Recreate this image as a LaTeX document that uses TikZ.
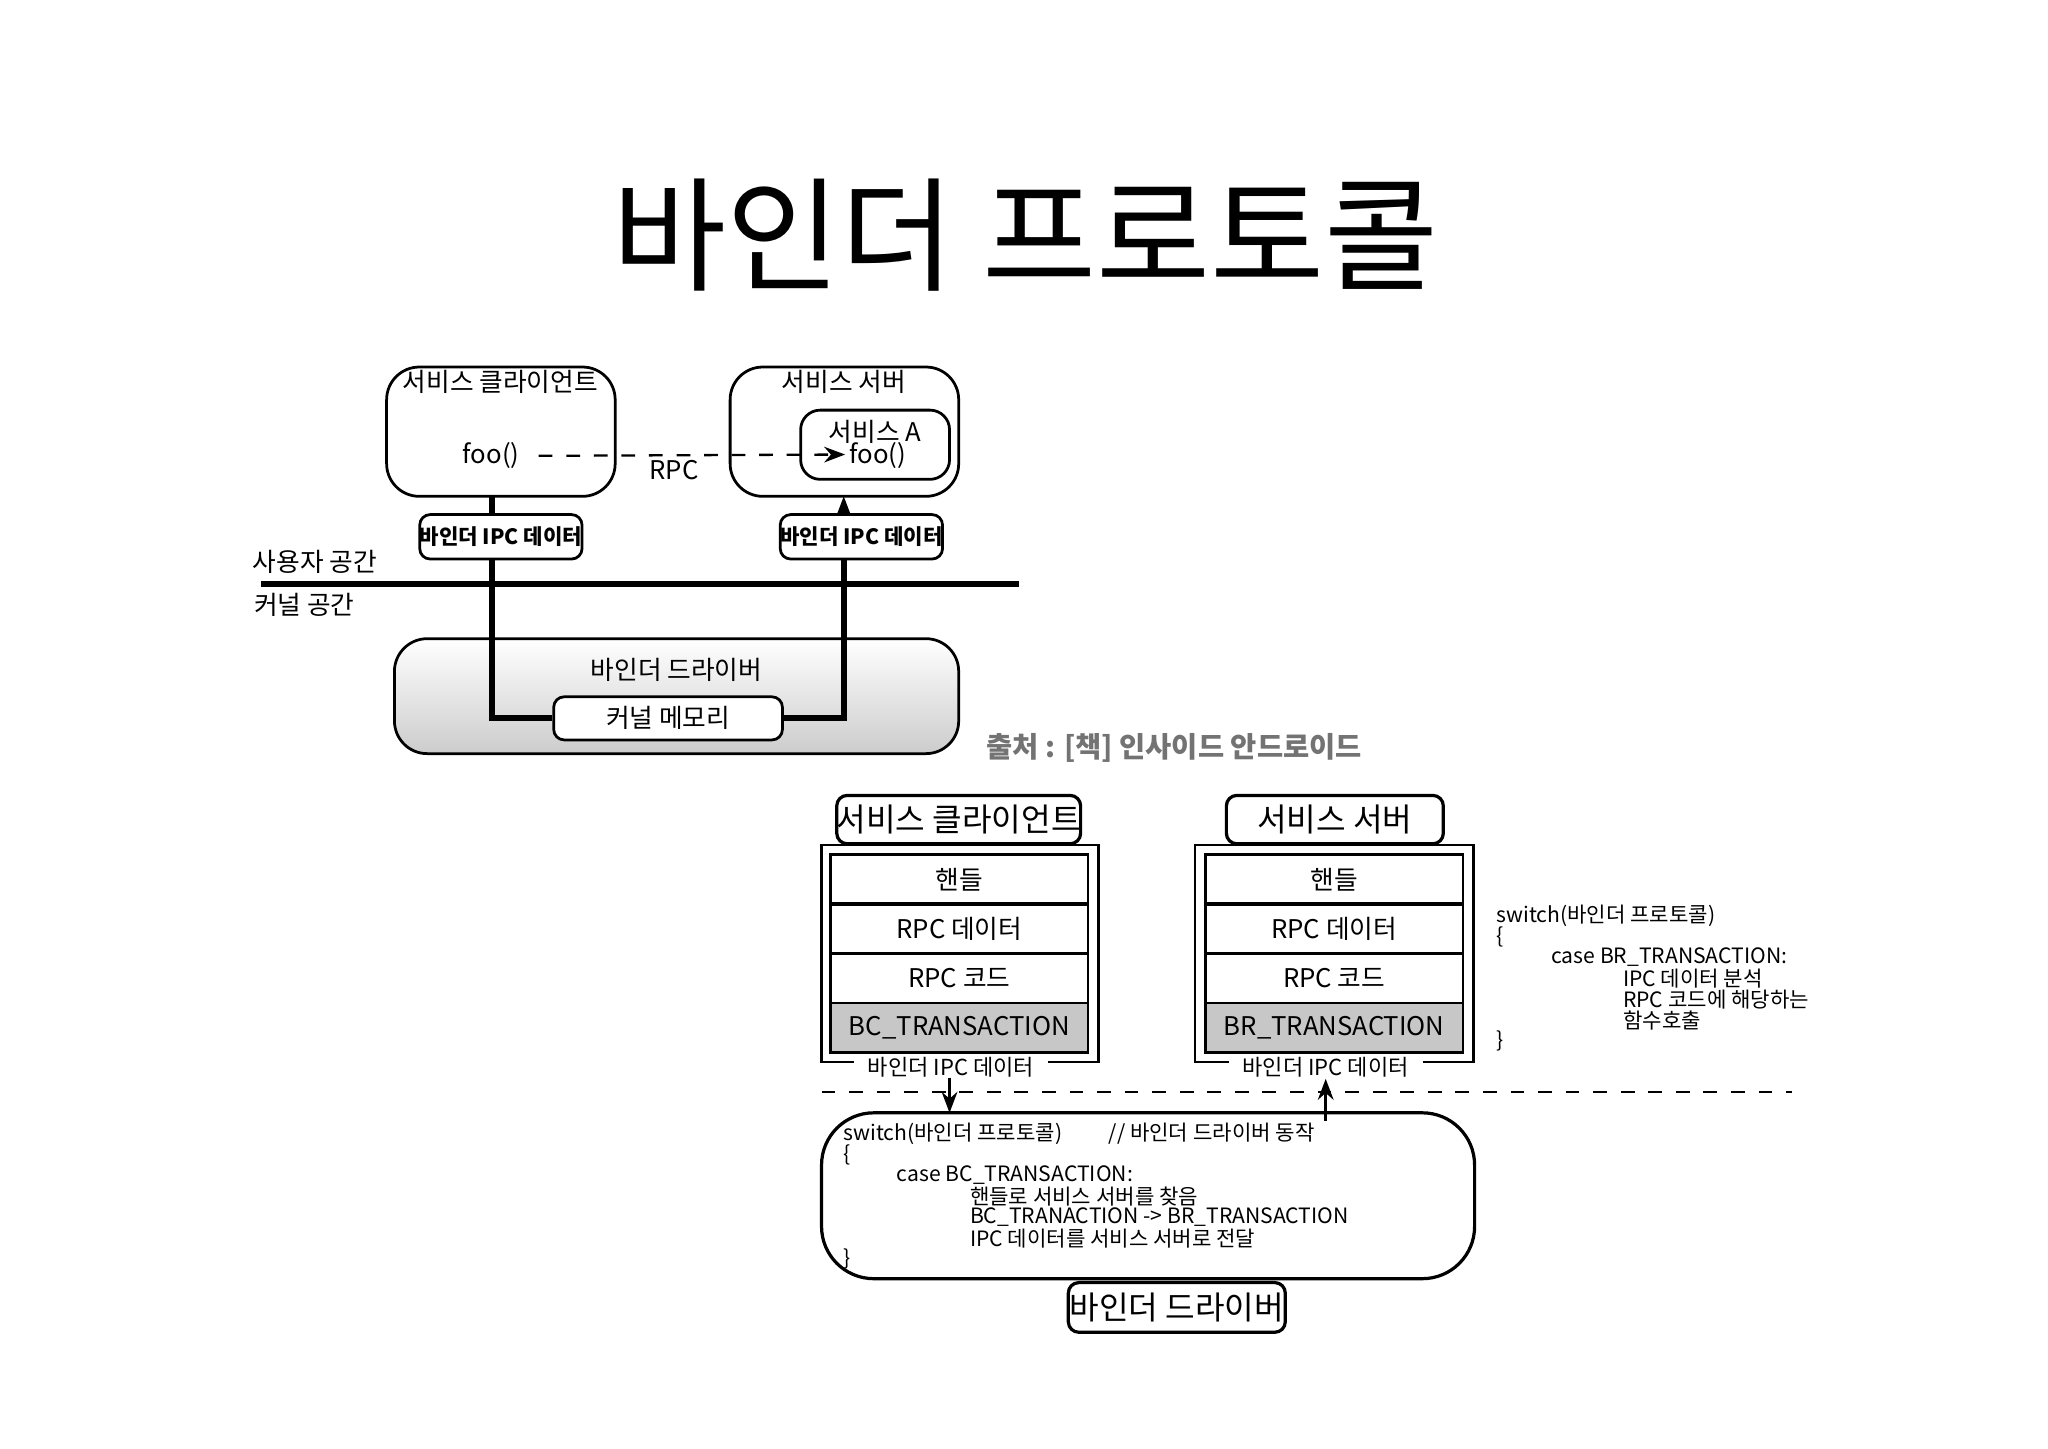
\documentclass[tikz,border=0pt]{standalone}
\usepackage{fontspec}
\setmainfont{Noto Sans CJK KR}
\usetikzlibrary{arrows.meta}
\begin{document}
\begin{tikzpicture}[x=0.01cm,y=-0.01cm,
  lbl/.style={inner sep=0pt,font=\fontsize{5.6pt}{6pt}\selectfont},
  code/.style={inner sep=0pt,anchor=west,font=\fontsize{4.6pt}{5pt}\selectfont},
  rbox/.style={draw,line width=0.6pt,rounded corners=2.5mm},
  ipc/.style={draw,line width=0.6pt,rounded corners=0.8mm,fill=white,minimum width=1.21cm,minimum height=0.34cm,inner sep=0pt,font=\fontsize{4.6pt}{5pt}\selectfont\bfseries},
  row/.style={draw,line width=0.6pt,minimum width=1.97cm,minimum height=0.38cm,inner sep=0pt,font=\fontsize{5.6pt}{6pt}\selectfont},
  tbox/.style={draw,line width=0.7pt,rounded corners=0.8mm,inner sep=0pt,font=\fontsize{7pt}{8pt}\selectfont},
  wire/.style={line width=1.3pt},
  arr/.style={-{Stealth[length=1.6mm]},line width=0.6pt}]
\useasboundingbox (0,0) rectangle (1568,1109);
\node[inner sep=0pt,font=\fontsize{27pt}{30pt}\selectfont] (title) at (785,180) {바인더 프로토콜};
% top diagram
\draw[rbox] (296,281) rectangle (471,380);
\node[lbl] (cl) at (383,292) {서비스 클라이언트};
\node[lbl] (foo1) at (376,349) {foo()};
\draw[rbox] (559,281) rectangle (734,380);
\node[lbl] (sv) at (646,292) {서비스 서버};
\draw[rbox,rounded corners=1.5mm] (613,314) rectangle (727,367);
\node[lbl] (sa) at (670,331) {서비스 A};
\node[lbl] (foo2) at (672,349) {foo()};
\coordinate (rpcend) at (647,348);
\draw[arr,dashed,line width=0.5pt] (foo1.east)+(4pt,0) -- (rpcend);
\node[lbl] (rpc) at (516,360) {RPC};
\draw[line width=1.2pt] (200,447) -- (780,447);
\node[lbl] (us) at (241,430) {사용자 공간};
\node[lbl] (ks) at (233,463) {커널 공간};
\shade[rounded corners=2.5mm,top color=white,bottom color=black!20,draw,line width=0.6pt] (302,489) rectangle (734,577);
\node[lbl] (drv) at (518,513) {바인더 드라이버};
\node[draw,line width=0.6pt,rounded corners=0.8mm,fill=white,minimum width=1.75cm,minimum height=0.33cm,inner sep=0pt,font=\fontsize{5.6pt}{6pt}\selectfont] (km) at (511.5,550) {커널 메모리};
\draw[wire] (377,380) |- (km.west);
\draw[wire] (km.east) -| (646,390);
\draw[arr,line width=1.3pt] (646,392) -- (646,380);
\node[ipc] (ipc1) at (383.5,411) {바인더 IPC 데이터};
\node[ipc] (ipc2) at (659.5,411) {바인더 IPC 데이터};
\node[inner sep=0pt,text=black!55,font=\fontsize{6.2pt}{7pt}\selectfont\bfseries] (src) at (899,573) {출처 : [책] 인사이드 안드로이드};
% bottom client
\node[tbox,minimum width=1.84cm,minimum height=0.37cm] (bc) at (734,627.5) {서비스 클라이언트};
\draw[line width=0.6pt] (629,647) rectangle (841,813);
\node[row] (c1) at (734.5,673.5) {핸들};
\node[row] (c2) at (734.5,711) {RPC 데이터};
\node[row] (c3) at (734.5,749) {RPC 코드};
\node[row,fill=black!22] (c4) at (734.5,787) {BC\_TRANSACTION};
\node[lbl,fill=white,inner xsep=3pt,font=\fontsize{4.8pt}{5pt}\selectfont] (cipc) at (728,817) {바인더 IPC 데이터};
% bottom server
\node[tbox,minimum width=1.66cm,minimum height=0.37cm] (bs) at (1022,627.5) {서비스 서버};
\draw[line width=0.6pt] (915,647) rectangle (1128,813);
\node[row] (s1) at (1021.5,673.5) {핸들};
\node[row] (s2) at (1021.5,711) {RPC 데이터};
\node[row] (s3) at (1021.5,749) {RPC 코드};
\node[row,fill=black!22] (s4) at (1021.5,787) {BR\_TRANSACTION};
\node[lbl,fill=white,inner xsep=3pt,font=\fontsize{4.8pt}{5pt}\selectfont] (sipc) at (1015,817) {바인더 IPC 데이터};
\draw[dashed,line width=0.6pt] (629,836) -- (1372,836);
% driver
\draw[rounded corners=4mm,line width=0.7pt] (629,852) rectangle (1129,979);
\coordinate (d1) at (727,852);
\coordinate (d2) at (1015,858);
\draw[arr] (727,825) -- (d1);
\draw[arr] (d2) -- (1015,826);
\node[code] (l1) at (645,868) {switch(바인더 프로토콜)\hspace{2.2em}// 바인더 드라이버 동작};
\node[code] (l2) at (645,884) {\{};
\node[code] (l3) at (686,900) {case BC\_TRANSACTION:};
\node[code] (l4) at (742,916) {핸들로 서비스 서버를 찾음};
\node[code] (l5) at (742,932) {BC\_TRANACTION -> BR\_TRANSACTION};
\node[code] (l6) at (742,948) {IPC 데이터를 서비스 서버로 전달};
\node[code] (l7) at (645,964) {\}};
\node[tbox,minimum width=1.66cm,minimum height=0.38cm] (bd) at (901,1001) {바인더 드라이버};
% right code
\node[code] (r1) at (1145,701) {switch(바인더 프로토콜)};
\node[code] (r2) at (1145,717) {\{};
\node[code] (r3) at (1187,733) {case BR\_TRANSACTION:};
\node[code] (r4) at (1242,749) {IPC 데이터 분석};
\node[code] (r5) at (1242,765) {RPC 코드에 해당하는};
\node[code] (r6) at (1242,781) {함수호출};
\node[code] (r7) at (1145,797) {\}};
\end{tikzpicture}
\end{document}
